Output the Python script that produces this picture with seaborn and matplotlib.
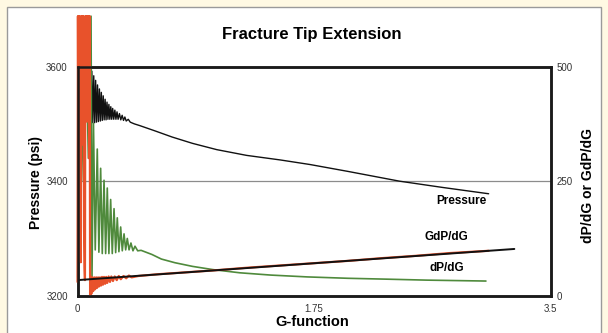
import matplotlib
matplotlib.use("Agg")
import matplotlib.pyplot as plt
import seaborn as sns
import pandas as pd
from matplotlib.patches import Rectangle

# Pressure (left axis, psi) vs G-function
press_g = [0.100, 0.106, 0.113, 0.120, 0.127, 0.134, 0.141, 0.148, 0.155, 0.162,
           0.169, 0.176, 0.183, 0.190, 0.197, 0.204, 0.211, 0.218, 0.225, 0.232,
           0.239, 0.246, 0.253, 0.260, 0.268, 0.276, 0.284, 0.292, 0.300, 0.310,
           0.320, 0.330, 0.340, 0.350, 0.360, 0.375, 0.390, 0.420, 0.460, 0.570,
           0.700, 0.850, 1.030, 1.250, 1.500, 1.720, 2.000, 2.380, 2.700, 3.040]
press_val = [3502, 3592, 3502, 3584, 3502, 3576, 3503, 3568, 3504, 3561,
             3505, 3555, 3506, 3549, 3507, 3543, 3507, 3538, 3508, 3534,
             3508, 3530, 3508, 3527, 3508, 3524, 3508, 3521, 3508, 3518,
             3507, 3515, 3506, 3512, 3505, 3508, 3503, 3500, 3497, 3488,
             3477, 3466, 3455, 3445, 3437, 3429, 3417, 3400, 3389, 3378]

# dP/dG (green, right axis)
dpdg_g = [0.002, 0.004, 0.030, 0.060, 0.080, 0.100, 0.107, 0.118, 0.131, 0.146,
          0.158, 0.171, 0.183, 0.196, 0.208, 0.220, 0.232, 0.245, 0.257, 0.270,
          0.282, 0.294, 0.306, 0.319, 0.331, 0.344, 0.356, 0.368, 0.381, 0.395,
          0.410, 0.425, 0.445, 0.470, 0.550, 0.620, 0.720, 0.850, 1.000, 1.200,
          1.430, 1.700, 2.000, 2.300, 2.580, 3.020]
dpdg_val = [40, 610, 250, 610, 300, 610, 38, 376, 100, 320,
            95, 278, 92, 252, 92, 235, 92, 210, 92, 190,
            94, 170, 96, 150, 98, 135, 100, 125, 100, 115,
            98, 108, 98, 99, 90, 80, 72, 64, 57, 50,
            45, 41, 38, 36, 34, 32]

# GdP/dG (red, right axis)
gdpdg_g = [0.000, 0.003, 0.006, 0.009, 0.012, 0.016, 0.020, 0.024, 0.028, 0.032,
           0.036, 0.040, 0.044, 0.048, 0.052, 0.055, 0.058, 0.062, 0.066, 0.070,
           0.074, 0.078, 0.082, 0.086, 0.090, 0.093, 0.098, 0.102, 0.110, 0.116,
           0.124, 0.130, 0.138, 0.144, 0.152, 0.158, 0.166, 0.173, 0.181, 0.188,
           0.196, 0.204, 0.212, 0.220, 0.230, 0.240, 0.250, 0.262, 0.275, 0.290,
           0.305, 0.320, 0.340, 0.360, 0.380, 0.400, 0.450, 0.600, 0.800, 1.000,
           1.250, 1.500, 1.750, 2.000, 2.250, 2.500, 2.750, 3.040]
gdpdg_val = [30, 610, 380, 610, 450, 610, 220, 73, 610, 400,
             610, 330, 610, 150, 60, 34, 610, 420, 610, 380,
             610, 440, 610, 300, 610, 2, 42, 4, 40, 10,
             40, 14, 40, 17, 40, 20, 40, 22, 41, 24,
             41, 26, 41, 28, 42, 30, 42, 32, 42, 34,
             43, 36, 43, 38, 44, 40, 43, 47, 51, 55,
             61, 66, 71, 76, 82, 87, 93, 98]

# straight tangent line (right axis)
tangent_g = [0.0, 3.23]
tangent_val = [34, 102]

# series labels
label_text = ["Pressure", "GdP/dG", "dP/dG"]
label_g = [2.84, 2.73, 2.73]
label_val = [206, 128, 60]

sns.set_style("white")
plt.rcParams['font.family'] = ['Liberation Sans', 'DejaVu Sans']
plt.rcParams['text.color'] = 'black'

fig = plt.figure(figsize=(6.08, 3.33), dpi=100, facecolor="#FFF9E3")
fig.patches.append(Rectangle((0.0115, -0.02), 0.977, 1.0, transform=fig.transFigure,
                             facecolor="white", edgecolor="#9a9a9a", lw=1, zorder=-10))

ax = fig.add_axes([0.1275, 0.112, 0.7785, 0.688])
ax.set_facecolor("none")
ax2 = ax.twinx()

press_df = pd.DataFrame({"G": press_g, "P": press_val})
sns.lineplot(data=press_df, x="G", y="P", sort=False, estimator=None,
             color="#111111", lw=1.0, ax=ax)
ax.axhline(3400, color="#8c8c8c", lw=0.9, zorder=0)

dpdg_df = pd.DataFrame({"G": dpdg_g, "v": dpdg_val})
gdpdg_df = pd.DataFrame({"G": gdpdg_g, "v": gdpdg_val})
tan_df = pd.DataFrame({"G": tangent_g, "v": tangent_val})
sns.lineplot(data=dpdg_df, x="G", y="v", sort=False, estimator=None,
             color="#4f8a3c", lw=1.2, clip_on=False, ax=ax2)
sns.lineplot(data=gdpdg_df, x="G", y="v", sort=False, estimator=None,
             color="#e8522b", lw=1.6, clip_on=False, ax=ax2)
sns.lineplot(data=tan_df, x="G", y="v", color="#111111", lw=1.4, ax=ax2)

ax.set_xlim(0, 3.5)
ax.set_ylim(3200, 3600)
ax2.set_ylim(0, 500)
ax.set_xticks([0, 1.75, 3.5])
ax.set_xticklabels(["0", "1.75", "3.5"])
ax.set_yticks([3200, 3400, 3600])
ax2.set_yticks([0, 250, 500])
ax.tick_params(axis="x", pad=6)
ax.tick_params(axis="y", pad=7)
ax2.tick_params(axis="y", pad=4)
for a in (ax, ax2):
    a.tick_params(length=0, labelsize=7, labelcolor="#333333")
    a.set_xlabel("")
    a.set_ylabel("")
    for s in a.spines.values():
        s.set_visible(True)
        s.set_color("#1a1a1a")
        s.set_linewidth(1.8)

fig.text(0.513, 0.034, "G-function", ha="center", va="center",
         fontsize=10.5, fontweight="bold")
fig.text(0.059, 0.453, "Pressure (psi)", ha="center", va="center", rotation=90,
         fontsize=10, fontweight="bold")
fig.text(0.967, 0.444, "dP/dG or GdP/dG", ha="center", va="center", rotation=90,
         fontsize=10, fontweight="bold")

for t, gx, gy in zip(label_text, label_g, label_val):
    ax2.text(gx, gy, t, ha="center", va="center", fontsize=8.5, fontweight="bold")

fig.text(0.513, 0.895, "Fracture Tip Extension", ha="center", va="center",
         fontsize=12, fontweight="bold")

fig.savefig("out.png", dpi=100, facecolor=fig.get_facecolor())
